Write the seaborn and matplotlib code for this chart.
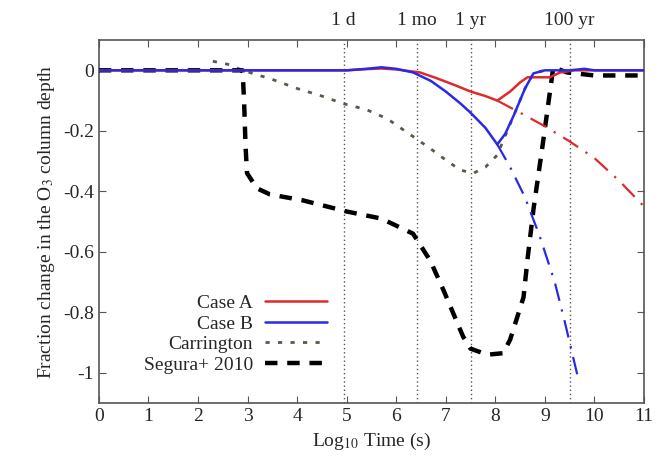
import seaborn as sns
import pandas as pd
import numpy as np
import matplotlib.pyplot as plt

sns.set_style("ticks")
plt.rcParams['font.family'] = ['Liberation Serif', 'DejaVu Serif']
plt.rcParams['mathtext.fontset'] = 'stix'

# data (log10 time in s, fraction change)
case_a_x = [0, 5.0, 5.4, 5.7, 6.0, 6.48, 6.8, 7.2, 7.5, 7.8, 8.04, 8.3, 8.5, 8.65, 8.9, 9.1, 9.31, 9.6, 10.0, 10.5, 11]
case_a_y = [0, 0, 0.004, 0.006, 0.003, -0.007, -0.025, -0.05, -0.07, -0.085, -0.10, -0.07, -0.04, -0.023, -0.023, -0.023, -0.007, 0, 0, 0, 0]
case_a_ext_x = [8.04, 8.5, 9.0, 9.5, 10.0, 10.5, 11]
case_a_ext_y = [-0.10, -0.14, -0.185, -0.235, -0.29, -0.365, -0.45]

case_b_x = [0, 5.0, 5.4, 5.7, 6.0, 6.34, 6.7, 7.0, 7.3, 7.5, 7.8, 8.04, 8.2, 8.37, 8.6, 8.77, 9.0, 9.5, 9.8, 10.0, 11]
case_b_y = [0, 0, 0.005, 0.01, 0.005, -0.007, -0.035, -0.07, -0.11, -0.14, -0.19, -0.245, -0.21, -0.15, -0.06, -0.01, 0, 0, 0.005, 0, 0]
case_b_ext_x = [8.04, 8.3, 8.6, 8.9, 9.2, 9.4, 9.66]
case_b_ext_y = [-0.245, -0.32, -0.42, -0.55, -0.70, -0.83, -1.01]

carr_x = [2.3, 2.6, 2.9, 3.5, 4.0, 4.5, 4.93, 5.4, 5.82, 6.35, 6.7, 7.03, 7.3, 7.56, 7.8, 8.04, 8.37, 8.6, 8.77, 9.0]
carr_y = [0.03, 0.02, 0.0, -0.03, -0.06, -0.085, -0.11, -0.13, -0.16, -0.22, -0.26, -0.30, -0.33, -0.34, -0.32, -0.28, -0.15, -0.06, -0.01, 0]

segura_x = [0, 2.9, 2.93, 2.96, 2.99, 3.19, 3.45, 4.12, 5.01, 5.7, 6.34, 6.69, 6.95, 7.35, 7.5, 7.84, 8.16, 8.3, 8.57, 8.65, 8.77, 8.97, 9.17, 9.45, 10.0, 11]
segura_y = [0, 0, -0.1, -0.25, -0.34, -0.39, -0.41, -0.43, -0.467, -0.49, -0.54, -0.63, -0.725, -0.88, -0.92, -0.94, -0.935, -0.89, -0.75, -0.625, -0.46, -0.23, 0.01, -0.007, -0.017, -0.017]

marks = [4.94, 6.41, 7.5, 9.5]
mark_labels = ["1 d", "1 mo", "1 yr", "100 yr"]

fig = plt.figure(figsize=(6.68, 4.66), dpi=100)
ax = fig.add_axes([0.148, 0.135, 0.816, 0.779])

for m in marks:
    ax.axvline(m, color="#555555", ls=(0, (1, 2)), lw=1.0, zorder=1)

red = "#e02a2a"
blue = "#2a2ae6"

sns.lineplot(x=carr_x, y=carr_y, ax=ax, color="#5a5a48", lw=2.0, ls=(0, (1.5, 3)), label="Carrington", zorder=2)
sns.lineplot(x=segura_x, y=segura_y, ax=ax, color="black", lw=3.2, ls=(0, (2.8, 2.2)), label="Segura+ 2010", zorder=3)
sns.lineplot(x=case_a_ext_x, y=case_a_ext_y, ax=ax, color=red, lw=1.6, ls=(0, (8, 4, 1, 4)), zorder=4)
sns.lineplot(x=case_b_ext_x, y=case_b_ext_y, ax=ax, color=blue, lw=1.6, ls=(0, (8, 4, 1, 4)), zorder=4)
sns.lineplot(x=case_a_x, y=case_a_y, ax=ax, color=red, lw=1.8, label="Case A", zorder=5)
sns.lineplot(x=case_b_x, y=case_b_y, ax=ax, color=blue, lw=1.8, label="Case B", zorder=6)

ax.set_xlim(0, 11)
ax.set_ylim(-1.1, 0.1)
ax.set_xticks(range(0, 12))
ax.set_yticks([0, -0.2, -0.4, -0.6, -0.8, -1])
ax.set_yticklabels(["0", "-0.2", "-0.4", "-0.6", "-0.8", "-1"])
ax.tick_params(direction="in", top=True, right=True, labelsize=14, length=5, color="#555555")
for s in ax.spines.values():
    s.set_color("#555555")
    s.set_linewidth(1.2)

ax.set_xlabel(r"Log$_{10}$ Time (s)", fontsize=14)
ax.set_ylabel(r"Fraction change in the O$_3$ column depth", fontsize=14)

for m, lab in zip(marks, mark_labels):
    ax.text(m, 1.03, lab, transform=ax.get_xaxis_transform(), ha="center", va="bottom", fontsize=14)

h, l = ax.get_legend_handles_labels()
order = [l.index(k) for k in ["Case A", "Case B", "Carrington", "Segura+ 2010"]]
ax.legend([h[i] for i in order], [l[i] for i in order], loc="lower left", bbox_to_anchor=(0.05, 0.033),
          frameon=False, markerfirst=False, fontsize=14, handlelength=3.2, labelspacing=0.15,
          handletextpad=0.6)

fig.savefig("out.png", dpi=100)
